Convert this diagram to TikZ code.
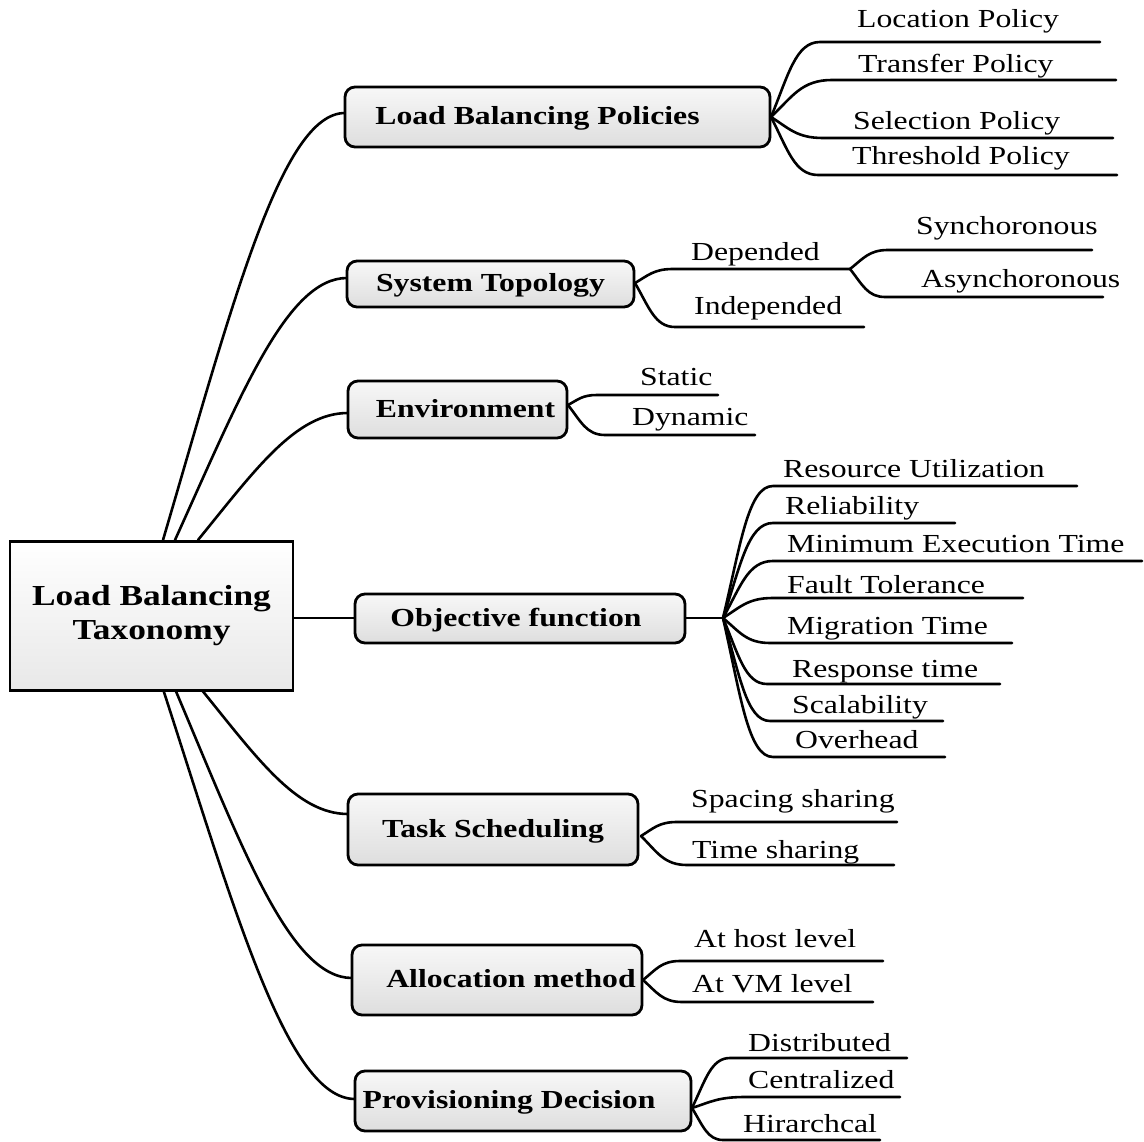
\documentclass[tikz,border=0pt]{standalone}
\usepackage{fontspec}
\setmainfont{Liberation Serif}[FakeStretch=1.22]
\usetikzlibrary{calc}
\begin{document}
\begin{tikzpicture}[x=1pt,y=-1pt,
  conn/.style={line width=2.6pt, line cap=round, line join=round},
  % smooth S-shaped branch: fractions for the two control points
  twig/.style args={#1/#2/#3}{to path={let \p1=(\tikztostart),\p2=(\tikztotarget) in
      .. controls ({\x1+#1*(\x2-\x1)},{\y1+#2*(\y2-\y1)}) and ({\x1+#3*(\x2-\x1)},\y2) .. (\tikztotarget)}},
  trunk/.style={twig=0.38/0.55/0.65},
  leafcurve/.style={twig=0.35/0.55/0.5},
  rootbox/.style={draw, line width=2.8pt, top color=white, bottom color=black!9,
      minimum width=283pt, minimum height=149pt, inner sep=0pt, align=center,
      font=\fontsize{29}{34}\selectfont\bfseries},
  branchbox/.style={draw, line width=2.8pt, rounded corners=10pt, top color=black!3,
      bottom color=black!13, inner sep=0pt, text height=18pt, text depth=3pt,
      font=\fontsize{26}{31}\selectfont\bfseries},
  leaf/.style={anchor=base west, inner sep=0pt, font=\fontsize{26}{31}\selectfont}]
\useasboundingbox (0,0) rectangle (1144,1142);

% ---------- attachment points ----------
\coordinate (rt1) at (163,540);
\coordinate (rt2) at (175,540);
\coordinate (rt3) at (198,540);
\coordinate (rb1) at (163,689);
\coordinate (rb2) at (175,689);
\coordinate (rb3) at (201,689);
\coordinate (rootR) at (293,618);

\coordinate (lbpIn) at (345,113);
\coordinate (stIn) at (347,278);
\coordinate (envIn) at (348,413);
\coordinate (objIn) at (355,618);
\coordinate (taskIn) at (348,814);
\coordinate (allocIn) at (352,978);
\coordinate (provIn) at (355,1099);

\coordinate (lbpB) at (771,117);
\coordinate (stB) at (635,283);
\coordinate (envB) at (568,405);
\coordinate (objR) at (685,618);
\coordinate (objB) at (723,618);
\coordinate (taskB) at (641,836);
\coordinate (allocB) at (643,980);
\coordinate (provB) at (692,1108);

% ---------- main branches ----------
\draw[conn] (rt1) to[trunk] (lbpIn);
\draw[conn] (rt2) to[trunk] (stIn);
\draw[conn] (rt3) to[trunk] (envIn);
\draw[conn] (rootR) -- (objIn);
\draw[conn] (rb3) to[trunk] (taskIn);
\draw[conn] (rb2) to[trunk] (allocIn);
\draw[conn] (rb1) to[trunk] (provIn);
\draw[conn] (objR) -- (objB);

% ---------- boxes ----------
\node[rootbox] (root) at (151.5,616) {Load Balancing\\Taxonomy};
\node[branchbox, minimum width=425pt, minimum height=60pt] (lbp) at (557.5,117) {\kern-40pt Load Balancing Policies};
\node[branchbox, minimum width=287pt, minimum height=46pt] (st) at (490.5,284) {System Topology};
\node[branchbox, minimum width=219pt, minimum height=57pt] (env) at (457.5,409.5) {\kern16pt Environment};
\node[branchbox, minimum width=330pt, minimum height=49pt] (obj) at (520,618.5) {\kern-8pt Objective function};
\node[branchbox, minimum width=290pt, minimum height=71pt] (task) at (493,829.5) {Task Scheduling};
\node[branchbox, minimum width=290pt, minimum height=70pt] (alloc) at (497,980) {\kern28pt Allocation method};
\node[branchbox, minimum width=336pt, minimum height=60pt] (prov) at (523,1101) {\kern-28pt Provisioning Decision};

% ---------- leaf underlines ----------
% Load Balancing Policies
\coordinate (locS) at (820,42);   \coordinate (locE) at (1100,42);
\coordinate (traS) at (832,80);   \coordinate (traE) at (1116,80);
\coordinate (selS) at (823,138);  \coordinate (selE) at (1113,138);
\coordinate (thrS) at (818,175);  \coordinate (thrE) at (1117,175);
% System Topology
\coordinate (depS) at (673,269);  \coordinate (depE) at (850,269);
\coordinate (indS) at (675,327);  \coordinate (indE) at (864,327);
\coordinate (synS) at (888,250);  \coordinate (synE) at (1092,250);
\coordinate (asyS) at (885,297);  \coordinate (asyE) at (1103,297);
% Environment
\coordinate (staS) at (597,395);  \coordinate (staE) at (718,395);
\coordinate (dynS) at (605,435);  \coordinate (dynE) at (755,435);
% Objective function
\coordinate (resS) at (773,486);  \coordinate (resE) at (1077,486);
\coordinate (relS) at (773,523);  \coordinate (relE) at (955,523);
\coordinate (minS) at (773,561);  \coordinate (minE) at (1142,561);
\coordinate (fauS) at (773,598);  \coordinate (fauE) at (1023,598);
\coordinate (migS) at (770,643);  \coordinate (migE) at (1012,643);
\coordinate (rspS) at (767,684);  \coordinate (rspE) at (1000,684);
\coordinate (scaS) at (770,721);  \coordinate (scaE) at (943,721);
\coordinate (ovhS) at (773,757);  \coordinate (ovhE) at (945,757);
% Task Scheduling
\coordinate (spaS) at (677,822);  \coordinate (spaE) at (897,822);
\coordinate (timS) at (687,865);  \coordinate (timE) at (894,865);
% Allocation method
\coordinate (hosS) at (680,961);  \coordinate (hosE) at (883,961);
\coordinate (vmlS) at (682,1002); \coordinate (vmlE) at (873,1002);
% Provisioning Decision
\coordinate (disS) at (730,1058); \coordinate (disE) at (907,1058);
\coordinate (cenS) at (745,1097); \coordinate (cenE) at (900,1097);
\coordinate (hirS) at (723,1140); \coordinate (hirE) at (880,1140);

\foreach \b/\l in {lbpB/loc, lbpB/tra, lbpB/sel, lbpB/thr,
                   stB/dep, stB/ind, depE/syn, depE/asy,
                   envB/sta, envB/dyn,
                   objB/res, objB/rel, objB/min, objB/fau, objB/mig, objB/rsp, objB/sca, objB/ovh,
                   taskB/spa, taskB/tim,
                   allocB/hos, allocB/vml,
                   provB/dis, provB/cen, provB/hir}
  \draw[conn] (\b) to[leafcurve] (\l S) -- (\l E);

% ---------- leaf labels ----------
\node[leaf] (loc) at (857,28)  {Location Policy};
\node[leaf] (tra) at (858,73)  {Transfer Policy};
\node[leaf] (sel) at (853,130) {Selection Policy};
\node[leaf] (thr) at (852,165) {Threshold Policy};

\node[leaf] (dep) at (691,261) {Depended};
\node[leaf] (ind) at (694,315) {Independed};
\node[leaf] (syn) at (916,235) {Synchoronous};
\node[leaf] (asy) at (921,288) {Asynchoronous};

\node[leaf] (sta) at (640,385) {Static};
\node[leaf] (dyn) at (632,425) {Dynamic};

\node[leaf] (res) at (783,477) {Resource Utilization};
\node[leaf] (rel) at (785,514) {Reliability};
\node[leaf] (min) at (787,552) {Minimum Execution Time};
\node[leaf] (fau) at (787,593) {Fault Tolerance};
\node[leaf] (mig) at (787,634) {Migration Time};
\node[leaf] (rsp) at (792,677) {Response time};
\node[leaf] (sca) at (792,713) {Scalability};
\node[leaf] (ovh) at (795,748) {Overhead};

\node[leaf] (spa) at (691,807) {Spacing sharing};
\node[leaf] (tim) at (692,858) {Time sharing};

\node[leaf] (hos) at (694,947) {At host level};
\node[leaf] (vml) at (692,992) {At VM level};

\node[leaf] (dis) at (748,1051) {Distributed};
\node[leaf] (cen) at (748,1088) {Centralized};
\node[leaf] (hir) at (743,1132) {Hirarchcal};
\end{tikzpicture}
\end{document}
